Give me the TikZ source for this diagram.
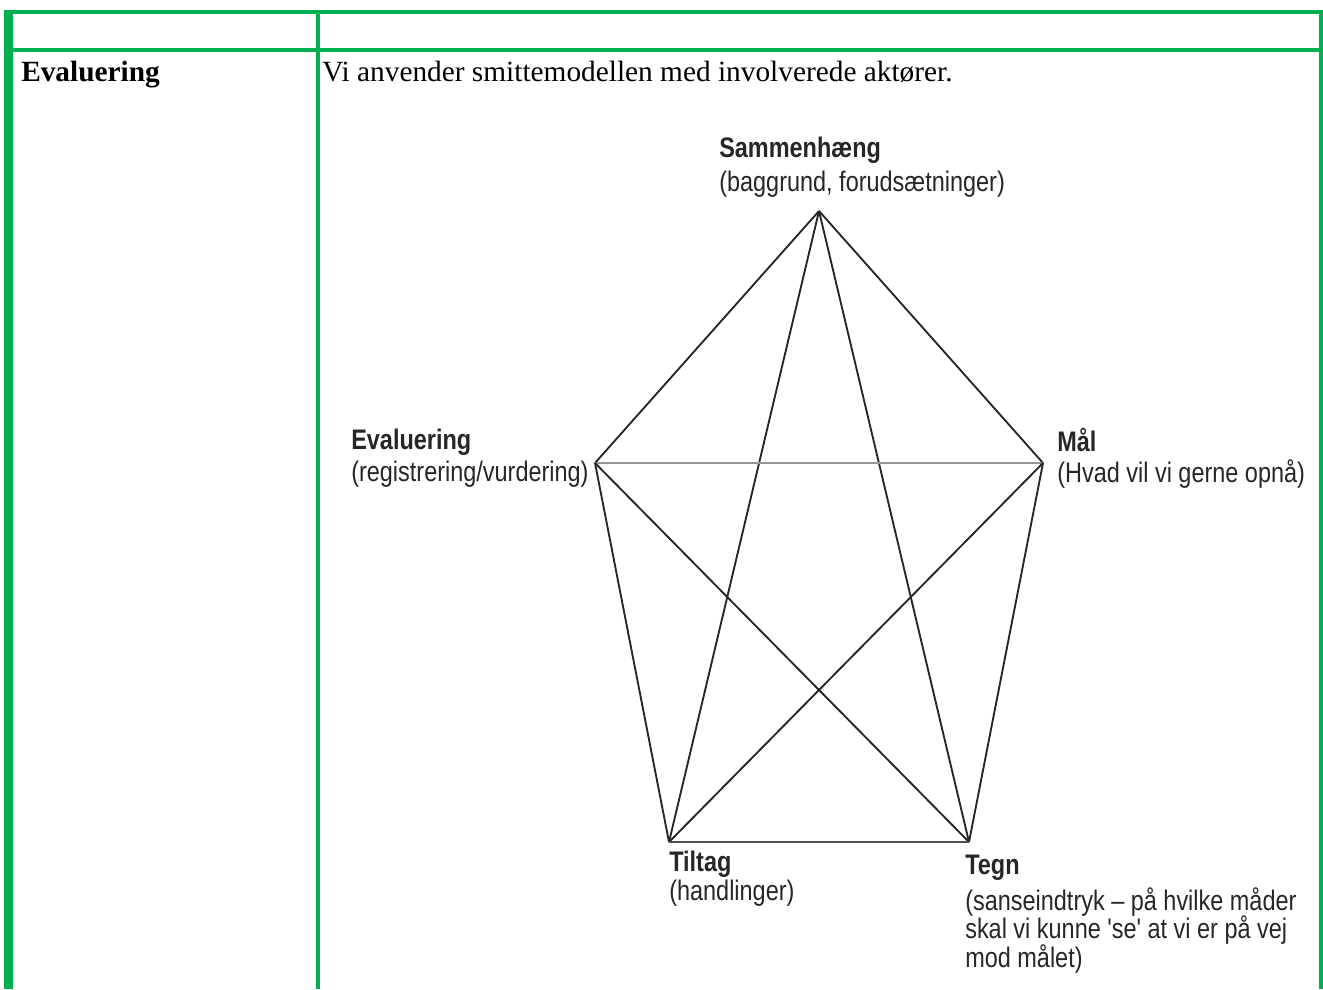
\documentclass[tikz,border=0pt]{standalone}
\usepackage{fontspec}
\setmainfont{Liberation Serif}
\newfontfamily\labelfont[FakeStretch=0.83]{Liberation Sans}
\usetikzlibrary{positioning}
\definecolor{tablegreen}{RGB}{0,176,80}
\definecolor{inkgray}{RGB}{38,38,38}
\definecolor{midgray}{RGB}{150,150,150}

\begin{document}
\begin{tikzpicture}[
  x=0.75pt, y=-0.75pt,
  rule/.style={draw=tablegreen, line width=3pt},
  edge/.style={draw=inkgray, line width=1.4pt},
  cell/.style={font=\fontsize{22pt}{26pt}\selectfont, inner sep=0pt, anchor=base west},
  vertexlabel/.style={font=\labelfont\fontsize{21.2pt}{21.6pt}\selectfont, text=inkgray, align=left, inner sep=0pt, anchor=north west}
]
\useasboundingbox (0,0) rectangle (1323,989);

% Table rules
\draw[rule] (4,12) -- (1323,12);
\draw[rule] (4,50) -- (1323,50);
\draw[rule] (318,10) -- (318,989);
\draw[rule] (1321,10) -- (1321,989);
\draw[draw=tablegreen, line width=6.75pt] (8.5,10) -- (8.5,989);

% Cell texts
\node[cell] (rowhead) at (21,81) {\textbf{Evaluering}};
\node[cell] (rowtext) at (322,81) {Vi anvender smittemodellen med involverede aktører.};

% Vertices of the model
\coordinate (sammen) at (819,211);
\coordinate (evaluering) at (595,463);
\coordinate (maal) at (1043,463);
\coordinate (tiltag) at (669,842);
\coordinate (tegn) at (969,842);

% Labels
\node[vertexlabel] (sammenlabel) at (719,137) {\textbf{Sammenhæng}\\[4pt](baggrund, forudsætninger)};
\node[vertexlabel] (evallabel) at (351,429) {\textbf{Evaluering}\\[2pt](registrering/vurdering)};
\node[vertexlabel] (maallabel) at (1057,428) {\textbf{Mål}\\[2pt](Hvad vil vi gerne opnå)};
\node[vertexlabel] (tiltaglabel) at (669,851) {\textbf{Tiltag}\\(handlinger)};
\node[vertexlabel] (tegnlabel) at (965,855) {\textbf{Tegn}\\[5pt](sanseindtryk – på hvilke måder\\skal vi kunne 'se' at vi er på vej\\mod målet)};

% Connections
\draw[edge] (sammen) -- (evaluering);
\draw[edge] (sammen) -- (maal);
\draw[edge] (sammen) -- (tiltag);
\draw[edge] (sammen) -- (tegn);
\draw[draw=midgray, line width=1.5pt] (evaluering) -- (maal);
\draw[edge] (evaluering) -- (tiltag);
\draw[edge] (evaluering) -- (tegn);
\draw[edge] (maal) -- (tiltag);
\draw[edge] (maal) -- (tegn);
\draw[draw=inkgray!80, line width=1.9pt] (tiltag) -- (tegn);

\end{tikzpicture}
\end{document}
